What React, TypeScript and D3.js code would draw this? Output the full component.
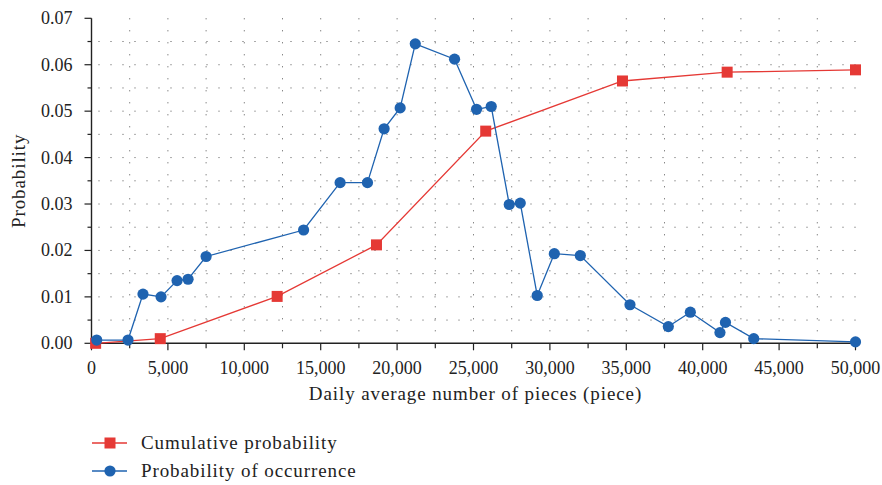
import { scaleLinear, line, range } from "d3";

const width = 882;
const height = 485;
const margin = { top: 18.3, right: 26.5, bottom: 141.7, left: 91.5 };

const xTicks = [0, 5000, 10000, 15000, 20000, 25000, 30000, 35000, 40000, 45000, 50000];
const yTicks = [0, 0.01, 0.02, 0.03, 0.04, 0.05, 0.06, 0.07];

// cumulative probability (red squares)
const cumX = [270, 4500, 12150, 18650, 25800, 34750, 41600, 50000];
const cumY = [0.0, 0.001, 0.0101, 0.0212, 0.0457, 0.0565, 0.0584, 0.0589];

// probability of occurrence (blue circles)
const occX = [
  340, 2390, 3370, 4550, 5600, 6320, 7500, 13880, 16270, 18060, 19150, 20200,
  21190, 23760, 25200, 26160, 27340, 28060, 29170, 30290, 31990, 35240, 37750,
  39190, 41130, 41490, 43340, 50000,
];
const occY = [
  0.0007, 0.0007, 0.0106, 0.01, 0.0135, 0.0138, 0.0187, 0.0244, 0.0346, 0.0346,
  0.0462, 0.0507, 0.0645, 0.0612, 0.0504, 0.051, 0.0299, 0.0302, 0.0103, 0.0193,
  0.0189, 0.0083, 0.0036, 0.0067, 0.0023, 0.0045, 0.001, 0.0003,
];

const red = "#e53935";
const blue = "#1f63b0";
const font = '"Liberation Serif", "Times New Roman", serif';
// word labels are set a bit wider than the digits, like the original face
const wordSize = 19;
const wordSpacing = 0.9;

export default function App() {
  const x = scaleLinear().domain([0, 50000]).range([margin.left, width - margin.right]);
  const y = scaleLinear().domain([0, 0.07]).range([height - margin.bottom, margin.top]);
  const y0 = y(0);
  const x1 = x(50000);

  const cum = cumX.map((v, i) => [v, cumY[i]] as [number, number]);
  const occ = occX.map((v, i) => [v, occY[i]] as [number, number]);
  const path = line<[number, number]>()
    .x((d) => x(d[0]))
    .y((d) => y(d[1]));

  const vGrid = range(2500, 50000, 2500);
  const hGrid = range(1, 14).map((k) => k * 0.005);
  const xMinor = range(2500, 50000, 5000);
  const yMinor = range(0, 7).map((k) => k * 0.01 + 0.005);

  return (
    <svg
      width={width}
      height={height}
      fontFamily={font}
      style={{ position: "absolute", left: 0, top: 0, background: "white" }}
    >
      {/* dotted grid */}
      {hGrid.map((g) => (
        <line
          key={"h" + g}
          x1={x(0) + 7}
          x2={x1 + 2}
          y1={y(g)}
          y2={y(g)}
          stroke="#555"
          strokeWidth={1}
          strokeDasharray="1,11"
        />
      ))}
      {vGrid.map((g) => (
        <line
          key={"v" + g}
          x1={x(g)}
          x2={x(g)}
          y1={y(0.07)}
          y2={y0 - 4}
          stroke="#555"
          strokeWidth={1}
          strokeDasharray="1,11"
        />
      ))}

      {/* axes */}
      <line x1={x(0)} x2={x1 + 2} y1={y0} y2={y0} stroke="#222" strokeWidth={1.4} />
      <line x1={x(0)} x2={x(0)} y1={y(0.07)} y2={y0} stroke="#222" strokeWidth={1.4} />
      {xTicks.map((t) => (
        <g key={t}>
          <line x1={x(t)} x2={x(t)} y1={y0} y2={y0 + 7} stroke="#222" strokeWidth={1.2} />
          <text x={x(t)} y={y0 + 31} textAnchor="middle" fontSize={18} fill="#222">
            {t.toLocaleString("en-US")}
          </text>
        </g>
      ))}
      {xMinor.map((t) => (
        <line key={t} x1={x(t)} x2={x(t)} y1={y0} y2={y0 + 5} stroke="#222" strokeWidth={1.2} />
      ))}
      {yTicks.map((t) => (
        <g key={t}>
          <line x1={x(0) - 7} x2={x(0)} y1={y(t)} y2={y(t)} stroke="#222" strokeWidth={1.2} />
          <text x={x(0) - 19} y={y(t)} dy="0.33em" textAnchor="end" fontSize={18} fill="#222">
            {t.toFixed(2)}
          </text>
        </g>
      ))}
      {yMinor.map((t) => (
        <line key={t} x1={x(0) - 4} x2={x(0)} y1={y(t)} y2={y(t)} stroke="#222" strokeWidth={1.2} />
      ))}

      <text
        x={(x(0) + x1) / 2 + 2}
        y={400}
        textAnchor="middle"
        fontSize={wordSize}
        letterSpacing={wordSpacing}
        fill="#222"
      >
        Daily average number of pieces (piece)
      </text>
      <text
        transform={`translate(25, ${(y(0.07) + y0) / 2}) rotate(-90)`}
        textAnchor="middle"
        fontSize={wordSize}
        letterSpacing={wordSpacing}
        fill="#222"
      >
        Probability
      </text>

      {/* series */}
      <path d={path(cum) ?? ""} fill="none" stroke={red} strokeWidth={1.3} />
      {cum.map((d, i) => (
        <rect
          key={i}
          x={x(d[0]) - 5.5}
          y={y(d[1]) - 5.5}
          width={11}
          height={11}
          fill={red}
        />
      ))}
      <path d={path(occ) ?? ""} fill="none" stroke={blue} strokeWidth={1.3} />
      {occ.map((d, i) => (
        <circle key={i} cx={x(d[0])} cy={y(d[1])} r={5.6} fill={blue} />
      ))}

      {/* legend */}
      <g>
        <line x1={92} x2={127} y1={443} y2={443} stroke={red} strokeWidth={1.3} />
        <rect x={104.5} y={437.5} width={11} height={11} fill={red} />
        <text x={141} y={443} dy="0.33em" fontSize={wordSize} letterSpacing={wordSpacing} fill="#222">
          Cumulative probability
        </text>
        <line x1={92} x2={127} y1={471} y2={471} stroke={blue} strokeWidth={1.3} />
        <circle cx={110} cy={471} r={5.6} fill={blue} />
        <text x={141} y={471} dy="0.33em" fontSize={wordSize} letterSpacing={wordSpacing} fill="#222">
          Probability of occurrence
        </text>
      </g>
    </svg>
  );
}
